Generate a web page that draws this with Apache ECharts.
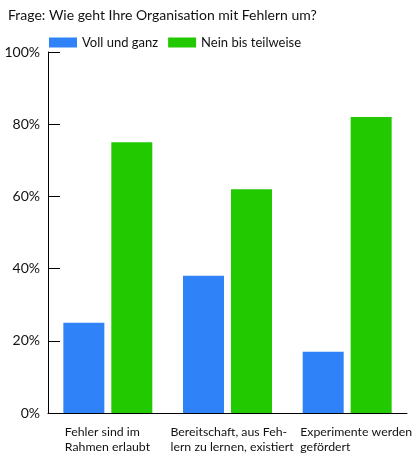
<!DOCTYPE html>
<html>
<head>
<meta charset="utf-8">
<script src="https://cdn.jsdelivr.net/npm/echarts@6/dist/echarts.min.js"></script>
<style>
  html, body { margin: 0; padding: 0; background: #fff; }
  #chart { width: 420px; height: 457px; }
</style>
</head>
<body>
<div id="chart"></div>
<script>
// Daten
var categories = ['Fehler sind im\nRahmen erlaubt', 'Bereitschaft, aus Feh-\nlern zu lernen, existiert', 'Experimente werden\ngefördert'];
var seriesNames = ['Voll und ganz', 'Nein bis teilweise'];
var vollUndGanz = [25, 38, 17];
var neinBisTeilweise = [75, 62, 82];

var font = 'Lato';

var chart = echarts.init(document.getElementById('chart'));

// Breite je Beschriftung, damit der Text linksbündig sitzt
var labelWidths = [86, 114, 94];
var rich = {};
labelWidths.forEach(function (w, i) {
    rich['c' + i] = { width: w, align: 'left', fontFamily: font, fontSize: 12.3, color: '#111', lineHeight: 15 };
});

var option = {
    backgroundColor: '#ffffff',
    animation: false,
    title: {
        text: 'Frage: Wie geht Ihre Organisation mit Fehlern um?',
        left: 3,
        top: 3,
        textStyle: { fontFamily: font, fontSize: 14, fontWeight: 'normal', color: '#111' }
    },
    legend: {
        left: 44,
        top: 31,
        itemWidth: 28,
        itemHeight: 10,
        itemGap: 10,
        icon: 'rect',
        textStyle: { fontFamily: font, fontSize: 13, color: '#111' },
        data: seriesNames
    },
    grid: { left: 48, right: 13, top: 52, bottom: 44 },
    xAxis: {
        type: 'category',
        data: categories,
        axisLine: { lineStyle: { color: '#000', width: 1 } },
        axisTick: { inside: true, length: 10, lineStyle: { color: '#000' } },
        axisLabel: {
            margin: 12,
            interval: 0,
            hideOverlap: false,
            formatter: function (v, i) {
                return v.split('\n').map(function (l) { return '{c' + i + '|' + l + '}'; }).join('\n');
            },
            rich: rich
        }
    },
    yAxis: {
        type: 'value',
        min: 0,
        max: 100,
        interval: 20,
        axisLine: { show: true, lineStyle: { color: '#000', width: 1 } },
        axisTick: { show: true, inside: true, length: 12, lineStyle: { color: '#000' } },
        splitLine: { show: false },
        axisLabel: {
            margin: 8,
            formatter: '{value}%',
            fontFamily: font,
            fontSize: 14,
            color: '#111'
        }
    },
    series: [
        {
            name: seriesNames[0],
            type: 'bar',
            data: vollUndGanz,
            barWidth: 41,
            barGap: '17%',
            itemStyle: { color: '#2f82f7' }
        },
        {
            name: seriesNames[1],
            type: 'bar',
            data: neinBisTeilweise,
            barWidth: 41,
            itemStyle: { color: '#22c800' }
        }
    ]
};

chart.setOption(option);
</script>
</body>
</html>
